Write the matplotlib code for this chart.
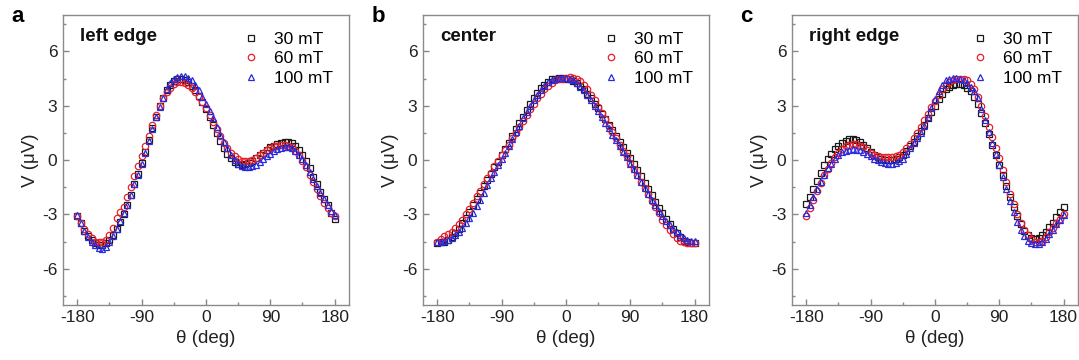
import matplotlib
matplotlib.use("Agg")
import matplotlib.pyplot as plt
import numpy as np
from matplotlib.ticker import MultipleLocator

plt.rcParams["font.family"] = ["Liberation Sans", "DejaVu Sans"]
plt.rcParams["axes.unicode_minus"] = False

theta = np.arange(-180, 181, 5)
fields = ["30 mT", "60 mT", "100 mT"]

# left edge
left_30 = [-3.1, -3.5, -3.9, -4.2, -4.4, -4.6, -4.7, -4.7, -4.6, -4.4, -4.15, -3.8, -3.4, -3.0, -2.5,
           -1.95, -1.35, -0.75, -0.15, 0.45, 1.1, 1.75, 2.4, 3.0, 3.45, 3.85, 4.15, 4.35, 4.45, 4.45,
           4.4, 4.3, 4.1, 3.85, 3.55, 3.2, 2.8, 2.4, 1.95, 1.5, 1.05, 0.65, 0.35, 0.1, -0.1, -0.2,
           -0.25, -0.2, -0.15, -0.05, 0.1, 0.25, 0.4, 0.55, 0.7, 0.8, 0.88, 0.93, 0.97, 0.98, 0.95,
           0.8, 0.55, 0.25, -0.05, -0.45, -0.95, -1.35, -1.75, -2.15, -2.5, -2.9, -3.25]
left_60 = [-3.1, -3.45, -3.8, -4.1, -4.3, -4.5, -4.55, -4.55, -4.4, -4.15, -3.75, -3.2, -2.85, -2.6,
           -2.05, -1.5, -0.9, -0.35, 0.2, 0.75, 1.35, 1.95, 2.5, 3.0, 3.4, 3.75, 4.0, 4.2, 4.3, 4.3,
           4.25, 4.15, 4.0, 3.75, 3.5, 3.2, 2.85, 2.5, 2.1, 1.7, 1.3, 0.95, 0.65, 0.4, 0.2, 0.05,
           -0.05, -0.05, -0.05, 0.0, 0.1, 0.25, 0.4, 0.55, 0.65, 0.75, 0.8, 0.85, 0.85, 0.8, 0.7,
           0.5, 0.25, -0.05, -0.4, -0.8, -1.2, -1.6, -2.0, -2.35, -2.65, -2.9, -3.1]
left_100 = [-3.05, -3.5, -3.9, -4.25, -4.5, -4.7, -4.85, -4.9, -4.8, -4.55, -4.2, -3.8, -3.35, -2.9,
            -2.5, -1.95, -1.35, -0.8, -0.2, 0.4, 1.05, 1.7, 2.35, 2.95, 3.45, 3.9, 4.25, 4.45, 4.6,
            4.65, 4.65, 4.55, 4.4, 4.15, 3.85, 3.5, 3.1, 2.7, 2.3, 1.85, 1.4, 1.0, 0.65, 0.3, 0.0,
            -0.2, -0.35, -0.4, -0.4, -0.35, -0.25, -0.1, 0.05, 0.2, 0.35, 0.5, 0.6, 0.68, 0.72, 0.72,
            0.65, 0.5, 0.3, 0.05, -0.3, -0.65, -1.05, -1.45, -1.8, -2.15, -2.5, -2.8, -3.05]

# center
center_30 = [-4.6, -4.55, -4.5, -4.4, -4.25, -4.05, -3.8, -3.5, -3.2, -2.85, -2.5, -2.15, -1.8,
             -1.45, -1.1, -0.75, -0.4, -0.1, 0.25, 0.6, 0.95, 1.3, 1.7, 2.05, 2.4, 2.75, 3.1, 3.4,
             3.7, 3.95, 4.15, 4.3, 4.45, 4.5, 4.55, 4.55, 4.5, 4.45, 4.35, 4.25, 4.1, 3.9, 3.65,
             3.4, 3.1, 2.85, 2.55, 2.25, 1.95, 1.65, 1.3, 1.0, 0.7, 0.4, 0.1, -0.2, -0.55, -0.9,
             -1.25, -1.6, -1.95, -2.3, -2.65, -2.95, -3.25, -3.55, -3.8, -4.05, -4.25, -4.45, -4.55,
             -4.6, -4.6]
center_60 = [-4.5, -4.35, -4.2, -4.1, -3.95, -3.75, -3.55, -3.3, -3.0, -2.7, -2.35, -2.0, -1.7,
             -1.35, -1.0, -0.7, -0.35, -0.05, 0.25, 0.55, 0.85, 1.2, 1.5, 1.85, 2.15, 2.5, 2.8, 3.1,
             3.4, 3.65, 3.9, 4.1, 4.25, 4.4, 4.45, 4.5, 4.55, 4.6, 4.55, 4.5, 4.35, 4.15, 3.9, 3.6,
             3.3, 2.95, 2.6, 2.25, 1.9, 1.55, 1.2, 0.85, 0.5, 0.2, -0.15, -0.5, -0.85, -1.2, -1.55,
             -1.9, -2.25, -2.6, -2.95, -3.3, -3.6, -3.85, -4.1, -4.3, -4.45, -4.55, -4.6, -4.6, -4.6]
center_100 = [-4.5, -4.5, -4.45, -4.4, -4.3, -4.15, -3.95, -3.75, -3.5, -3.2, -2.9, -2.55, -2.2,
              -1.8, -1.4, -1.0, -0.65, -0.3, 0.05, 0.4, 0.8, 1.15, 1.55, 1.9, 2.3, 2.65, 3.0, 3.3,
              3.6, 3.85, 4.1, 4.3, 4.4, 4.5, 4.55, 4.55, 4.55, 4.5, 4.4, 4.25, 4.05, 3.85, 3.6, 3.3,
              3.0, 2.7, 2.4, 2.05, 1.75, 1.4, 1.1, 0.75, 0.45, 0.15, -0.2, -0.5, -0.85, -1.2, -1.55,
              -1.85, -2.2, -2.5, -2.8, -3.1, -3.35, -3.6, -3.8, -4.0, -4.15, -4.3, -4.4, -4.45, -4.45]

# right edge
right_30 = [-2.45, -2.05, -1.6, -1.15, -0.7, -0.3, 0.05, 0.35, 0.6, 0.8, 0.95, 1.05, 1.15, 1.15,
            1.1, 1.0, 0.85, 0.65, 0.45, 0.3, 0.15, 0.05, 0.0, 0.0, 0.0, 0.05, 0.15, 0.3, 0.5, 0.75,
            1.0, 1.3, 1.6, 1.95, 2.3, 2.65, 3.0, 3.35, 3.65, 3.9, 4.05, 4.15, 4.2, 4.2, 4.15, 4.0,
            3.8, 3.5, 3.1, 2.6, 2.05, 1.45, 0.85, 0.3, -0.25, -0.85, -1.45, -2.05, -2.6, -3.1,
            -3.55, -3.9, -4.15, -4.3, -4.35, -4.3, -4.15, -3.95, -3.7, -3.45, -3.15, -2.85, -2.6]
right_60 = [-3.1, -2.65, -2.2, -1.7, -1.25, -0.85, -0.5, -0.15, 0.15, 0.4, 0.6, 0.75, 0.85, 0.9,
            0.88, 0.8, 0.7, 0.55, 0.4, 0.3, 0.2, 0.15, 0.15, 0.15, 0.15, 0.2, 0.3, 0.45, 0.65, 0.9,
            1.2, 1.5, 1.85, 2.2, 2.55, 2.9, 3.25, 3.6, 3.9, 4.15, 4.3, 4.4, 4.5, 4.5, 4.5, 4.4, 4.2,
            3.9, 3.5, 3.0, 2.45, 1.85, 1.25, 0.65, 0.1, -0.55, -1.2, -1.85, -2.45, -3.0, -3.45,
            -3.85, -4.15, -4.35, -4.5, -4.5, -4.45, -4.25, -4.0, -3.75, -3.5, -3.25, -3.0]
right_100 = [-2.9, -2.5, -2.05, -1.6, -1.2, -0.85, -0.45, -0.2, 0.05, 0.25, 0.43, 0.52, 0.58, 0.6,
             0.58, 0.55, 0.47, 0.35, 0.2, 0.08, -0.02, -0.12, -0.17, -0.2, -0.22, -0.18, -0.08,
             0.05, 0.35, 0.65, 0.95, 1.2, 1.5, 1.9, 2.4, 2.85, 3.35, 3.8, 4.15, 4.4, 4.5, 4.55,
             4.55, 4.5, 4.4, 4.25, 4.05, 3.8, 3.4, 2.8, 2.2, 1.55, 0.95, 0.35, -0.3, -0.95, -1.6,
             -2.25, -2.85, -3.4, -3.85, -4.2, -4.45, -4.6, -4.65, -4.65, -4.55, -4.35, -4.1, -3.85,
             -3.55, -3.3, -3.05]

panels = [
    ("a", "left edge", [left_30, left_60, left_100]),
    ("b", "center", [center_30, center_60, center_100]),
    ("c", "right edge", [right_30, right_60, right_100]),
]
markers = ["s", "o", "^"]
colors = ["#1a1a1a", "#e8202a", "#2a2ae0"]
lefts = [0.0584, 0.392, 0.734]


def style_axis(ax):
    ax.set_xlim(-200, 200)
    ax.set_ylim(-8, 8)
    ax.xaxis.set_major_locator(MultipleLocator(90))
    ax.xaxis.set_minor_locator(MultipleLocator(45))
    ax.yaxis.set_major_locator(MultipleLocator(3))
    ax.yaxis.set_minor_locator(MultipleLocator(1.5))
    ax.tick_params(which="both", direction="in", top=False, right=False,
                   labelsize=12.5, colors="#888888", labelcolor="#222222")
    ax.tick_params(which="major", length=4, width=1, pad=4)
    ax.tick_params(which="minor", length=2.5, width=1)
    for sp in ax.spines.values():
        sp.set_color("#8a8a8a")
        sp.set_linewidth(1.0)
    ax.set_xlabel("θ (deg)", fontsize=13.5, color="#222222", labelpad=3)
    ax.set_ylabel("V (μV)", fontsize=13.5, color="#222222", labelpad=2)


fig = plt.figure(figsize=(10.79, 3.6), dpi=100)
for (letter, name, series), x0 in zip(panels, lefts):
    ax = fig.add_axes([x0, 0.153, 0.265, 0.805])
    for vals, m, c, lab in zip(series, markers, colors, fields):
        ax.plot(theta, vals, ls="none", marker=m, ms=4.6, mfc="none", mec=c,
                mew=0.9, label=lab)
    style_axis(ax)
    ax.text(0.06, 0.925, name, transform=ax.transAxes, fontsize=13.5,
            fontweight="bold", va="center", ha="left", color="#111111")
    ax.legend(loc="upper left", bbox_to_anchor=(0.585, 0.985), frameon=False,
              handlelength=1.0, handletextpad=0.8, labelspacing=0.25,
              fontsize=12.5, borderpad=0.2)
    fig.text(x0 - 0.048, 0.955, letter, fontsize=16, fontweight="bold",
             ha="left", va="center")

fig.savefig("out.png", dpi=100)
